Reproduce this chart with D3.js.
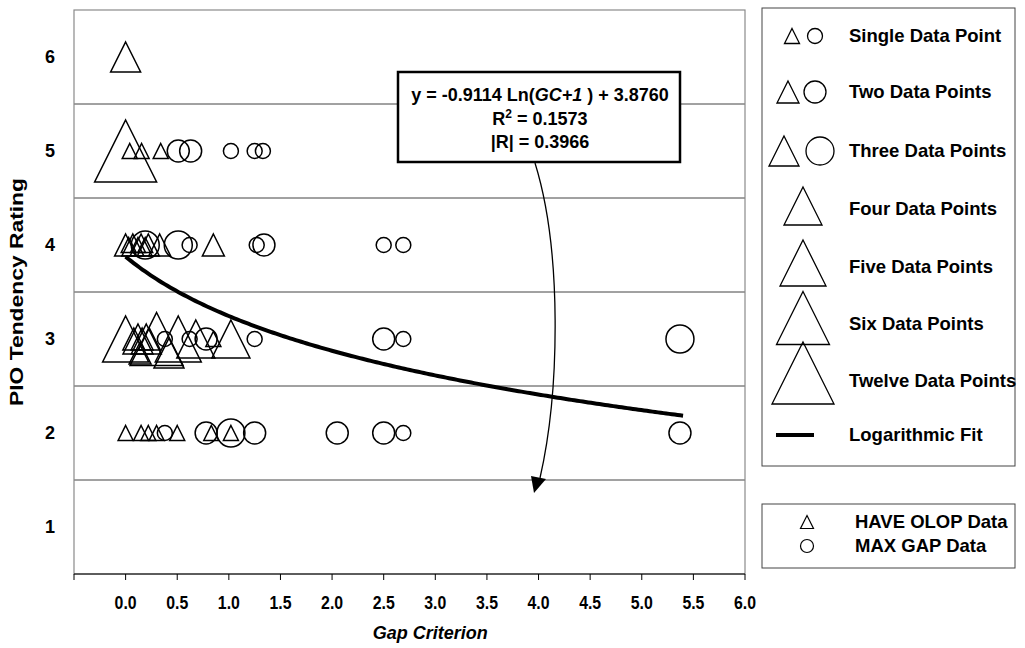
<!DOCTYPE html>
<html><head><meta charset="utf-8">
<script src="https://cdn.jsdelivr.net/npm/d3@7"></script>
<style>
html,body{margin:0;padding:0;background:#fff;}
svg{display:block;font-family:"Liberation Sans",Arial,sans-serif;}
</style></head>
<body><svg id="c" width="1025" height="648"></svg>
<script>
// ---- data ----
const xTicks = [-0.5,0.0,0.5,1.0,1.5,2.0,2.5,3.0,3.5,4.0,4.5,5.0,5.5,6.0];
const yTicks = [1,2,3,4,5,6];
const gridY = [1.5,2.5,3.5,4.5,5.5];

// HAVE OLOP data (triangles): gap criterion, rating, number of data points
const triX = [0.0, 0.0,0.04,0.155,0.34, 0.0,0.03,0.07,0.12,0.15,0.19,0.22,0.33,0.85,
              0.0,0.08,0.12,0.16,0.20,0.23,0.30,0.51,0.68,0.85,1.02,0.14,0.42,
              0.0,0.15,0.22,0.30,0.50,0.83,1.02];
const triY = [6, 5,5,5,5, 4,4,4,4,4,4,4,4,4,
              3,3,3,3,3,3,3,3,3,3,3,2.85,2.85,
              2,2,2,2,2,2,2];
const triN = [3, 12,1,1,1, 2,1,2,1,2,1,2,2,2,
              5,2,3,2,3,2,6,5,4,1,4,2,3,
              1,1,1,1,1,1,1];
// MAX GAP data (circles)
const cirX = [0.51,0.63,1.02,1.25,1.33, 0.19,0.51,0.62,1.27,1.34,2.50,2.69,
              0.38,0.62,0.78,1.25,2.50,2.69,5.37,
              0.38,0.78,1.02,1.25,2.05,2.50,2.69,5.37];
const cirY = [5,5,5,5,5, 4,4,4,4,4,4,4,
              3,3,3,3,3,3,3,
              2,2,2,2,2,2,2,2];
const cirN = [2,2,1,1,1, 3,3,1,1,2,1,1,
              1,1,2,1,2,1,3,
              1,2,3,2,2,2,1,2];

// logarithmic fit coefficients (as printed on chart)
const fitA = -0.9114, fitB = 3.8760, fitXmin = 0, fitXmax = 5.4;

const legendLabels = ["Single Data Point","Two Data Points","Three Data Points","Four Data Points",
                      "Five Data Points","Six Data Points","Twelve Data Points","Logarithmic Fit"];
const legendCounts = [1,2,3,4,5,6,12];
const seriesLabels = ["HAVE OLOP Data","MAX GAP Data"];

// ---- drawing ----
const svg = d3.select("#c");
const L=74, R=745, T=10, B=574;
const x = d3.scaleLinear().domain([-0.5,6.0]).range([L,R]);
const y = d3.scaleLinear().domain([0.5,6.5]).range([B,T]);
const triSize = d3.scaleOrdinal().domain([1,2,3,4,5,6,12]).range([15,22,30,38,46,53,62]);
const cirSize = d3.scaleOrdinal().domain([1,2,3]).range([15,22,28]);

function triPath(cx,cy,s){return `M${cx},${cy-s/2}L${cx+s/2},${cy+s/2}L${cx-s/2},${cy+s/2}Z`;}

// gridlines
svg.append("g").selectAll("line").data(gridY).join("line")
  .attr("x1",L).attr("x2",R).attr("y1",d=>y(d)).attr("y2",d=>y(d))
  .attr("stroke","#444").attr("stroke-width",1);
// plot border
svg.append("rect").attr("x",L).attr("y",T).attr("width",R-L).attr("height",B-T)
  .attr("fill","none").attr("stroke","#8a8a8a").attr("stroke-width",1.2);

// x axis
const xa = svg.append("g").attr("transform",`translate(0,${B})`);
xa.append("line").attr("x1",L).attr("x2",R).attr("stroke","#000").attr("stroke-width",1);
xa.selectAll("line.t").data(xTicks).join("line").attr("class","t")
  .attr("x1",d=>x(d)).attr("x2",d=>x(d)).attr("y1",0).attr("y2",6).attr("stroke","#000");
xa.selectAll("text").data(xTicks.filter(d=>d>=0)).join("text")
  .attr("transform",d=>`translate(${x(d)},35) scale(0.88,1)`).attr("text-anchor","middle")
  .attr("font-size",18).attr("font-weight","bold").text(d=>d.toFixed(1));
svg.append("text").attr("x",x(2.95)).attr("y",639).attr("text-anchor","middle")
  .attr("font-size",18).attr("font-weight","bold").attr("font-style","italic").text("Gap Criterion");

// y axis labels
svg.append("g").selectAll("text").data(yTicks).join("text")
  .attr("x",50).attr("y",d=>y(d)+6).attr("text-anchor","middle")
  .attr("font-size",18).attr("font-weight","bold").text(d=>d);
svg.append("text").attr("transform",`translate(23,${(T+B)/2}) rotate(-90)`)
  .attr("text-anchor","middle").attr("font-size",19).attr("font-weight","bold")
  .attr("textLength",228).attr("lengthAdjust","spacingAndGlyphs").text("PIO Tendency Rating");

// markers
const tri = triX.map((v,i)=>({x:v,y:triY[i],n:triN[i]}));
const cir = cirX.map((v,i)=>({x:v,y:cirY[i],n:cirN[i]}));
const mk = svg.append("g").attr("fill","none").attr("stroke","#000").attr("stroke-width",1.5);
mk.selectAll("path").data(tri).join("path").attr("d",d=>triPath(x(d.x),y(d.y),triSize(d.n)));
mk.selectAll("circle").data(cir).join("circle")
  .attr("cx",d=>x(d.x)).attr("cy",d=>y(d.y)).attr("r",d=>cirSize(d.n)/2);

// fit curve
const fitPts = d3.range(0,201).map(i=>{const gx=fitXmin+(fitXmax-fitXmin)*i/200; return [gx, fitA*Math.log(gx+1)+fitB];});
svg.append("path").datum(fitPts)
  .attr("d",d3.line().x(d=>x(d[0])).y(d=>y(d[1])).curve(d3.curveLinear))
  .attr("fill","none").attr("stroke","#000").attr("stroke-width",4).attr("stroke-linecap","butt");

// annotation box
svg.append("rect").attr("x",398).attr("y",72).attr("width",282).attr("height",90)
  .attr("fill","#fff").attr("stroke","#000").attr("stroke-width",2.5);
const eq = svg.append("text").attr("x",540).attr("y",101).attr("text-anchor","middle")
  .attr("font-size",18).attr("font-weight","bold");
eq.append("tspan").text("y = -0.9114 Ln(");
eq.append("tspan").attr("font-style","italic").text("GC+1");
eq.append("tspan").text(" ) + 3.8760");
const r2 = svg.append("text").attr("x",540).attr("y",125).attr("text-anchor","middle")
  .attr("font-size",18).attr("font-weight","bold");
r2.append("tspan").text("R");
r2.append("tspan").attr("font-size",12).attr("dy",-7).text("2");
r2.append("tspan").attr("dy",7).text(" = 0.1573");
svg.append("text").attr("x",540).attr("y",148).attr("text-anchor","middle")
  .attr("font-size",18).attr("font-weight","bold").text("|R| = 0.3966");

// arrow
svg.append("path").attr("d","M535,163 C562,250 560,390 540,478")
  .attr("fill","none").attr("stroke","#000").attr("stroke-width",1.3);
svg.append("path").attr("d","M534,493 L531,476 L546,479 Z").attr("fill","#000");

// legend 1
svg.append("rect").attr("x",762).attr("y",8).attr("width",253).attr("height",458)
  .attr("fill","#fff").attr("stroke","#444").attr("stroke-width",1);
const rowY = [36,92,151,209,267,324,381,435];
const mkOff = [0,0,0,-3,-4,-6,-8];
const lg = svg.append("g").attr("fill","none").attr("stroke","#000").attr("stroke-width",1.3);
const triCx = [792,788,784,803,803,803,803];
legendCounts.forEach((n,i)=>{
  lg.append("path").attr("d",triPath(triCx[i],rowY[i]+mkOff[i],triSize(n)));
  if(i<3) lg.append("circle").attr("cx",[815,815,820][i]).attr("cy",rowY[i]).attr("r",cirSize(n)/2);
});
svg.append("line").attr("x1",776).attr("x2",814).attr("y1",rowY[7]).attr("y2",rowY[7])
  .attr("stroke","#000").attr("stroke-width",4);
svg.append("g").selectAll("text").data(legendLabels).join("text")
  .attr("x",849).attr("y",(d,i)=>rowY[i]+6).attr("font-size",18.5).attr("font-weight","bold").text(d=>d);

// legend 2
svg.append("rect").attr("x",762).attr("y",504).attr("width",253).attr("height",64)
  .attr("fill","#fff").attr("stroke","#444").attr("stroke-width",1);
svg.append("path").attr("d",triPath(807,522,13)).attr("fill","none").attr("stroke","#000").attr("stroke-width",1.2);
svg.append("circle").attr("cx",807).attr("cy",546).attr("r",6.5).attr("fill","none").attr("stroke","#000").attr("stroke-width",1.2);
svg.append("g").selectAll("text").data(seriesLabels).join("text")
  .attr("x",855).attr("y",(d,i)=>[528,552][i]).attr("font-size",18.5).attr("font-weight","bold").text(d=>d);
</script></body></html>
